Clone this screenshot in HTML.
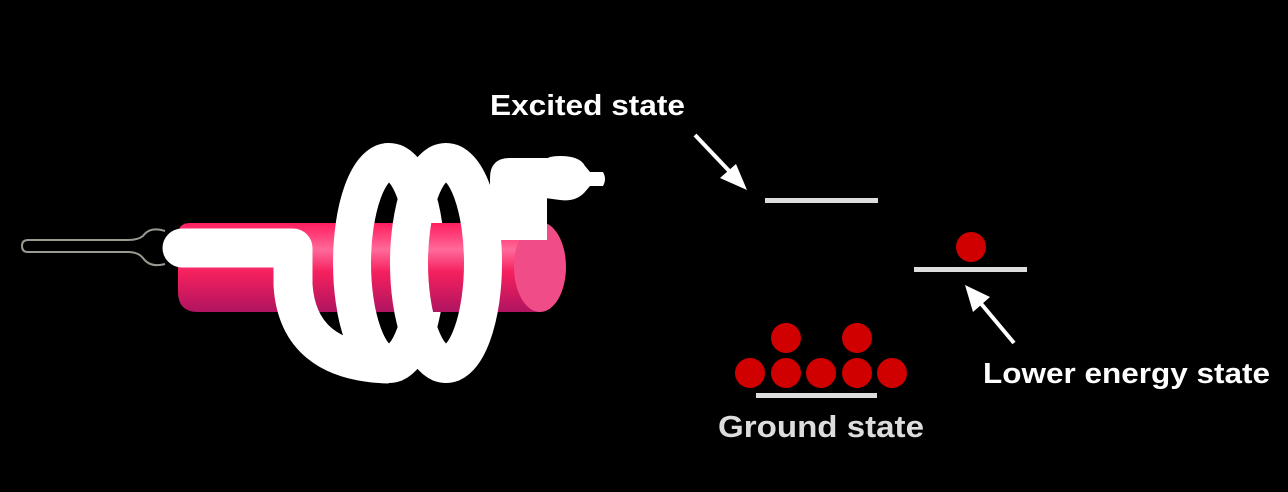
<!DOCTYPE html>
<html><head><meta charset="utf-8"><style>
html,body{margin:0;padding:0;background:#000;}
svg{display:block}
text{font-family:"Liberation Sans",Arial,sans-serif;font-weight:bold}
</style></head><body>
<svg width="1288" height="492" viewBox="0 0 1288 492" xmlns="http://www.w3.org/2000/svg">
<defs>
<linearGradient id="rod" x1="0" y1="0" x2="0" y2="1">
<stop offset="0" stop-color="#ff1e5e"/><stop offset="0.3" stop-color="#ff6a9a"/><stop offset="0.55" stop-color="#f5205e"/><stop offset="1" stop-color="#b01460"/>
</linearGradient>
</defs>
<rect width="1288" height="492" fill="#000"/>
<!-- wire -->
<path d="M165,231 Q150,226 143,236 Q138,240 128,240 L28,240 Q22,240 22,246 Q22,252 28,252 L128,252 Q138,252 143,258 Q150,268 165,264" fill="none" stroke="#9a9a90" stroke-width="2"/>
<!-- loop1 back -->
<ellipse cx="389" cy="263" rx="37" ry="101" fill="none" stroke="#fff" stroke-width="38"/>
<!-- rod -->
<path d="M190,223 L540,223 L540,312 L198,312 Q178,312 178,292 L178,235 Q178,223 190,223 Z" fill="url(#rod)"/>
<ellipse cx="540" cy="267" rx="26" ry="45" fill="#f04d88"/>
<!-- loop1 front half -->
<path d="M389,162 A37,101 0 0 0 389,364" fill="none" stroke="#fff" stroke-width="38"/>
<!-- out elbow -->
<path d="M490,240 L490,178 Q490,158 510,158 L547,158 L547,240 Z" fill="#fff"/>
<path d="M545,160 Q548,156 560,156 Q580,156 585,166 L590,172 L603,172 Q607,179 603,186 L590,186 L584,193 Q575,202 560,200 L545,198 Z" fill="#fff"/>
<!-- loop2 -->
<ellipse cx="446" cy="263" rx="37" ry="101" fill="none" stroke="#fff" stroke-width="38"/>
<!-- lead in -->
<path d="M182,248 L293,248 L293,285 Q298,362 389,364" fill="none" stroke="#fff" stroke-width="39" stroke-linejoin="round"/>
<circle cx="182" cy="248" r="19.5" fill="#fff"/>
<!-- energy levels -->
<rect x="765" y="198" width="113" height="5" fill="#ddd"/>
<rect x="914" y="267" width="113" height="5" fill="#ddd"/>
<rect x="756" y="393" width="121" height="5" fill="#ddd"/>
<g fill="#d00000">
<circle cx="971" cy="247" r="15"/>
<circle cx="786" cy="338" r="15"/><circle cx="857" cy="338" r="15"/>
<circle cx="750" cy="373" r="15"/><circle cx="786" cy="373" r="15"/><circle cx="821" cy="373" r="15"/><circle cx="857" cy="373" r="15"/><circle cx="892" cy="373" r="15"/>
</g>
<!-- arrows -->
<line x1="695" y1="135" x2="733" y2="175" stroke="#fff" stroke-width="4"/>
<polygon points="747,190 720,178 736,164" fill="#fff"/>
<line x1="1014" y1="343" x2="978" y2="300" stroke="#fff" stroke-width="4"/>
<polygon points="965,285 990,297 973,312" fill="#fff"/>
<text x="490" y="115" font-size="29" fill="#fff" textLength="195" lengthAdjust="spacingAndGlyphs">Excited state</text>
<text x="983" y="383" font-size="29" fill="#fff" textLength="287" lengthAdjust="spacingAndGlyphs">Lower energy state</text>
<text x="718" y="437" font-size="31" fill="#ddd" textLength="206" lengthAdjust="spacingAndGlyphs">Ground state</text>
</svg>
</body></html>
